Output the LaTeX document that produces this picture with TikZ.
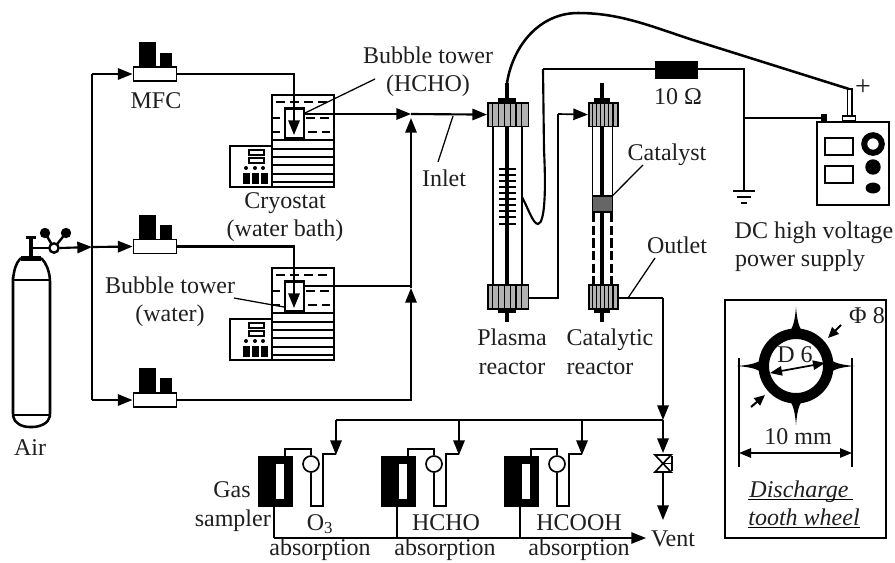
\documentclass[tikz,border=0pt]{standalone}
\usepackage{fontspec}
\setmainfont{Liberation Serif}
\usetikzlibrary{arrows.meta,calc}
\definecolor{ink}{gray}{0.12}
\tikzset{
  lbl/.style={inner sep=0pt,anchor=base,font=\fontsize{18}{20}\selectfont,text=ink},
  thk/.style={line width=1.6pt},
  med/.style={line width=1.25pt},
  thn/.style={line width=0.95pt},
  flow/.style={thk,-{Triangle[length=11pt,width=8.5pt]}},
  dim/.style={line width=1.3pt,{Triangle[length=9pt,width=7pt]}-{Triangle[length=9pt,width=7pt]}},
  small arrow/.style={line width=1.5pt,-{Triangle[length=8pt,width=7pt]}},
  box/.style={draw,thn,fill=white,inner sep=0pt},
}
% MFC: name, box centre y, tall top, small top
\newcommand{\mfcunit}[4]{%
  \fill (139,#3) rectangle (156,#2-7);
  \fill (160,#4) rectangle (172,#2-7);
  \node[box,line width=1.2pt,minimum width=32.5pt,minimum height=10.5pt] (#1) at (155,#2) {};
}
% cryostat with bubble tower
\newcommand{\cryo}[2]{%
  \begin{scope}[shift={(0,#2)}]
    \draw[thn] (272,95) rectangle (334,140);
    \draw[thn] (272,140) rectangle (334,187);
    \foreach \yy in {149,157,165,174,182} \draw[thn] (272,\yy) -- (334,\yy);
    \draw[med,dash pattern=on 7pt off 3.5pt] (276,102) -- (330,102);
    \draw[med] (272,118) -- (280,118);
    \draw[med,dash pattern=on 7pt off 3.5pt] (306,118) -- (331,118);
    \draw[med] (272,132) -- (280,132);
    \draw[med,dash pattern=on 7pt off 3.5pt] (308,132) -- (330,132);
    \draw[thn] (230,146) rectangle (272,187);
    \draw[thn] (249,150) rectangle (264,155);
    \draw[thn] (249,158) rectangle (264,163);
    \foreach \xx in {246,255,263} \fill (\xx,168) circle[radius=1.5pt];
    \foreach \xx in {243,252,261} \fill (\xx,173) rectangle (\xx+7,184);
    \node[draw,line width=1.8pt,fill=white,inner sep=0pt,minimum width=14.5pt,minimum height=22.5pt] (#1) at (294.5,123.5) {};
    \coordinate (#1in) at (294,135);
    \coordinate (#1out) at (305,113);
  \end{scope}}
% reactor end cap
\newcommand{\rcap}[6]{% name, x0, y0, w, h, n
  \node[draw,med,fill=black!30,inner sep=0pt,minimum width=#4*0.75pt,minimum height=#5*0.75pt,anchor=north west] (#1) at (#2,#3) {};
  \foreach \k in {1,...,#6} \draw[thn] ({#2+#4*\k/(#6+1)},#3) -- ({#2+#4*\k/(#6+1)},#3+#5);
}
% absorber train
\newcommand{\absorb}[2]{%
  \begin{scope}[shift={(#2,0)}]
    \fill (258,456) rectangle (293,507);
    \fill[white] (276,464) rectangle (284,499);
    \node[draw,line width=1.25pt,fill=white,circle,inner sep=0pt,minimum size=12pt] (#1c) at (311,464) {};
    \draw[med] (#1c.north) -- (311,449) -- (285,449) -- (285,456);
    \draw[med] (#1c.south) -- (311,506) -- (323,506) -- (323,454) -- (336,454);
    \coordinate (#1t) at (336,420);
    \coordinate (#1a) at (336,455);
    \coordinate (#1s) at (274,507);
    \coordinate (#1b) at (274,538);
  \end{scope}}
\begin{document}
\begin{tikzpicture}[x=0.75pt,y=-0.75pt]
\useasboundingbox (0,0) rectangle (895,562);
\fill[white] (0,0) rectangle (895,562);

% ---------- air cylinder
\draw[line width=1.9pt,fill=white,rounded corners=1pt] (13,280) -- (13,415) .. controls (14,423) and (22,427) .. (31,427) .. controls (40,427) and (49,423) .. (50,415) -- (50,280) .. controls (49,270) and (46,263) .. (41,258) -- (21,258) .. controls (16,263) and (14,270) .. (13,280) -- cycle;
\draw[thk] (13,280) -- (50,280);
\draw[thk] (13,415) -- (50,415);
\fill (21,256) rectangle (41,261);
\fill (29,237) rectangle (33,257);
\fill (26,235.5) rectangle (36,239);
\draw[thk] (33,248) -- (54,248);
\fill (45,233) circle[radius=3.9pt];
\fill (66,233) circle[radius=3.9pt];
\draw[line width=1.8pt] (45,233) -- (54,248);
\draw[line width=1.8pt] (66,233) -- (54,248);
\node[draw,line width=1.8pt,fill=white,circle,inner sep=0pt,minimum size=7pt] (valve) at (54,248) {};
\node[lbl] at (30,455) {Air};

% ---------- trunk and MFCs
\mfcunit{mfc1}{74}{42}{53}
\mfcunit{mfc2}{246.5}{215}{225}
\mfcunit{mfc3}{400}{368}{378}
\coordinate (tr1) at (92,74);
\coordinate (tr2) at (92,247);
\coordinate (tr3) at (92,400);
\draw[flow] (valve.east) -- (tr2);
\draw[thk] (tr1) -- (tr3);
\draw[flow] (tr1) -- (mfc1.west);
\draw[flow] (tr2) -- (mfc2.west);
\draw[flow] (tr3) -- (mfc3.west);
\node[lbl] at (156,108) {MFC};

% ---------- cryostats
\cryo{tw1}{0}
\cryo{tw2}{173}
\draw[flow] (mfc1.east) -| (tw1in);
\draw[flow] (mfc2.east) -| (tw2in);
\node[lbl] at (285,208) {Cryostat};
\node[lbl] at (285,236) {(water bath)};
\node[lbl] at (428,63) {Bubble tower};
\node[lbl] at (428,91) {(HCHO)};
\node[lbl] at (170,293) {Bubble tower};
\node[lbl] at (170,321) {(water)};
\coordinate (lead1) at (375,79);
\draw[thn] (tw1out) -- (lead1);
\coordinate (lead2) at (234,298);
\coordinate (lead2b) at (284,307);
\draw[thn] (lead2) -- (lead2b);

% ---------- junctions
\coordinate (j1) at (411,114);
\coordinate (j1b) at (411,118);
\coordinate (j2) at (411,288);
\coordinate (j3) at (411,400);
\coordinate (tw1e) at (305,114);
\draw[flow] (tw1e) -- (j1);
\draw[thk] (tw2out) -- (j2 |- tw2out);
\draw[flow] (mfc3.east) -- (j3) -- (j2);
\draw[flow] (j2) -- (j1b);

% ---------- plasma reactor
\draw[thn] (493,125) -- (493,285);
\draw[thn] (522,125) -- (522,285);
\draw[line width=3.2pt] (507,83) -- (507,322);
\foreach \yy in {169,175,181,187,193,199,205,211,217,224} \draw[line width=1.3pt] (498.5,\yy) -- (515.5,\yy);
\fill (498,98) rectangle (516,102);
\fill (498,308) rectangle (516,313);
\rcap{pt}{487}{102}{40.5}{23.5}{6}
\rcap{pb}{487}{284}{40.5}{24}{6}
\draw[flow] (j1) -- (pt.west);
\node[lbl] at (512,345) {Plasma};
\node[lbl] at (512,374) {reactor};

% ---------- catalytic reactor
\draw[thn] (592.5,125) -- (592.5,197);
\draw[thn] (612.5,125) -- (612.5,197);
\draw[line width=3.2pt] (602,83) -- (602,322);
\fill (594,98) rectangle (610,102);
\fill (594,308) rectangle (610,313);
\draw[line width=1.8pt,dash pattern=on 7pt off 2.5pt] (593.5,213) -- (593.5,284);
\draw[line width=1.8pt,dash pattern=on 7pt off 2.5pt] (611.5,213) -- (611.5,284);
\node[draw,thn,fill=black!60,inner sep=0pt,minimum width=14.5pt,minimum height=12pt] (cat) at (602.5,204) {};
\rcap{ct}{588}{102}{29}{23.5}{6}
\rcap{cb}{588}{284}{29}{24}{6}
\node[lbl] at (610,345) {Catalytic};
\node[lbl] at (600,374) {reactor};
\node[lbl] at (667,160) {Catalyst};
\coordinate (catl) at (643,165);
\draw[thn] (cat.north east) -- (catl);

% plasma outlet to catalytic inlet
\coordinate (p1) at (558,298);
\coordinate (p2) at (558,114);
\draw[med] (pb.east |- p1) -- (p1) -- (p2);
\draw[med,-{Triangle[length=11pt,width=8.5pt]}] (p2) -- (ct.west);

% ---------- resistor and HV
\node[fill=black,inner sep=0pt,minimum width=32.25pt,minimum height=13.5pt] (res) at (676.5,70) {};
\node[lbl] at (678,104) {10 \char"03A9};
\coordinate (r1) at (543,69);
\coordinate (r2) at (744,69);
\coordinate (r3) at (744,118);
\coordinate (r4) at (744,190);
\draw[thk] (r1) -- (res.west |- r1);
\draw[thk] (res.east |- r2) -- (r2) -- (r4);
\draw[line width=1.6pt] (r1) -- (544,150) .. controls (546,190) and (545,223) .. (538,224) .. controls (533,224) and (528,208) .. (522,197);
\draw[thk] (733,191) -- (755,191);
\draw[thn] (737,197) -- (751,197);
\draw[thk] (741,203) -- (747,203);

\node[draw,line width=1.3pt,fill=white,inner sep=0pt,minimum width=54pt,minimum height=62.25pt] (psu) at (853,163.5) {};
\draw[line width=1.15pt] (825,138) rectangle (853,155);
\draw[line width=1.15pt] (825,166) rectangle (853,183);
\draw[line width=4.5pt] (873,144) circle[radius=6.6pt];
\fill (873,167) circle[radius=5.8pt];
\fill (873,188) ellipse[x radius=5.6pt,y radius=4.1pt];
\node[fill=black,inner sep=0pt,minimum width=4.8pt,minimum height=6pt] (term) at (824,118) {};
\draw[thk] (r3) -- (term.west);
\node[draw,line width=1.2pt,fill=white,inner sep=0pt,minimum width=10pt,minimum height=4pt] (plug) at (849,118.5) {};
\draw[med] (847.5,116) -- (847.5,89);
\draw[med] (852,116) -- (852,89) -- (847.5,89);
\coordinate (hvtop) at (507,83);
\coordinate (hvend) at (849,89);
\draw[line width=1.9pt] (hvtop) .. controls (513,45) and (540,13) .. (578,13) .. controls (620,13) and (650,26) .. (693,40) -- (hvend);
\node[lbl,font=\fontsize{21}{22}\selectfont] at (863,95) {+};
\node[lbl] at (814,238) {DC high voltage};
\node[lbl] at (800,266) {power supply};

% ---------- inlet / outlet
\coordinate (inl1) at (453,116);
\coordinate (inl2) at (438,162);
\draw[thn] (inl1) -- (inl2);
\node[lbl] at (444,186) {Inlet};
\coordinate (o1) at (663,298);
\coordinate (o2) at (663,420);
\coordinate (o3) at (663,453);
\coordinate (ol1) at (628,298);
\coordinate (ol2) at (655,258);
\draw[thn] (ol1) -- (ol2);
\node[lbl] at (677,253) {Outlet};
\draw[med] (cb.east |- o1) -- (o1);
\draw[flow] (o1) -- (o2);
\draw[flow] (o2) -- (o3);
\draw[line width=1.2pt,fill=white] (655,455) -- (671,455) -- (655,472) -- (671,472) -- cycle;
\coordinate (vm) at (663,463.5);
\coordinate (vh) at (672,463.5);
\draw[line width=1.2pt] (vm) -- (vh);
\draw[line width=1.2pt] (672,456) -- (672,471);
\coordinate (o4) at (663,472);
\coordinate (o5) at (663,520);
\draw[flow] (o4) -- (o5);
\node[lbl] at (673,546) {Vent};

% ---------- absorbers
\absorb{aa}{0}
\absorb{ab}{123}
\absorb{ac}{246}
\draw[thk] (o2) -- (aat);
\draw[flow] (aat) -- (aaa);
\draw[flow] (abt) -- (aba);
\draw[flow] (act) -- (aca);
\foreach \n in {aa,ab,ac} \draw[med] (\n s) -- (\n b);
\coordinate (ve) at (646,538);
\draw[med,-{Triangle[length=11pt,width=8.5pt]}] (aab) -- (ve);
\node[lbl] at (232,497) {Gas};
\node[lbl,anchor=base east] at (271,526) {sampler};
\node[lbl] at (320,530) {O\textsubscript{3}};
\node[lbl] at (446,530) {HCHO};
\node[lbl] at (579,530) {HCOOH};
\node[lbl] at (320,555) {absorption};
\node[lbl] at (445,555) {absorption};
\node[lbl] at (579,555) {absorption};

% ---------- tooth wheel inset
\node[draw,line width=1.2pt,inner sep=0pt,minimum width=120.75pt,minimum height=178.5pt] (inset) at (805.5,419) {};
\coordinate (wc) at (796,366);
\foreach \a in {0,90,180,270} {
  \fill[rotate around={\a:(wc)}] (788,333) .. controls (793,329) and (795,320) .. (796,307) .. controls (797,320) and (799,329) .. (804,333) -- cycle;
}
\draw[line width=7.9pt] (wc) circle[radius=24.2pt];
\node[lbl] at (795,362) {D 6};
\coordinate (d1) at (770,373);
\coordinate (d2) at (825,363);
\draw[dim] (d1) -- (d2);
\coordinate (t1) at (739,358);
\coordinate (t2) at (739,467);
\coordinate (t3) at (852,358);
\coordinate (t4) at (852,467);
\draw[line width=1.2pt] (t1) -- (t2);
\draw[line width=1.2pt] (t3) -- (t4);
\coordinate (t5) at (739,453);
\coordinate (t6) at (852,453);
\draw[dim] (t5) -- (t6);
\node[lbl] at (798,444) {10 mm};
\node[lbl] at (867,323) {\char"03A6{} 8};
\coordinate (s1) at (841,325);
\coordinate (s2) at (828,338);
\draw[small arrow] (s1) -- (s2);
\coordinate (s3) at (751,407);
\coordinate (s4) at (765,395);
\draw[small arrow] (s3) -- (s4);
\node[lbl,font=\fontsize{18}{20}\selectfont\itshape] at (799,497) {Discharge};
\node[lbl,font=\fontsize{18}{20}\selectfont\itshape] at (804,525) {tooth wheel};
\draw[thn] (748,499.5) -- (853,499.5);
\draw[thn] (748,527.5) -- (860,527.5);
\end{tikzpicture}
\end{document}
